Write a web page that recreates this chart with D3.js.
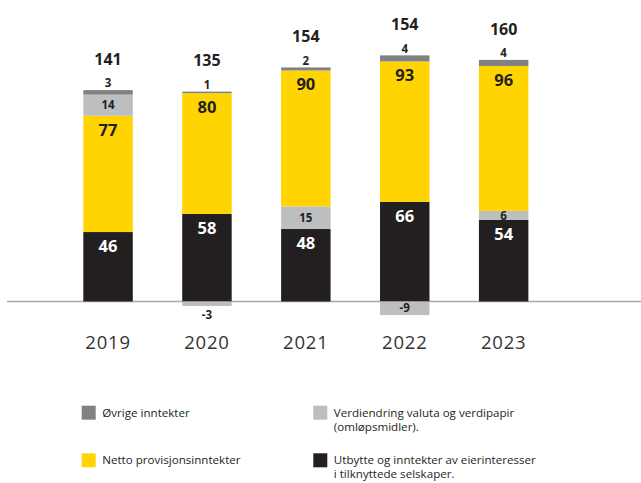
<!DOCTYPE html>
<html><head><meta charset="utf-8">
<script src="https://cdn.jsdelivr.net/npm/d3@7"></script>
<style>body{margin:0;background:#fff}svg{display:block}text{font-family:"Open Sans","Noto Sans",sans-serif}</style>
</head><body>
<svg id="c" width="641" height="483"></svg>
<script>
const years = ["2019","2020","2021","2022","2023"];
const utbytte = [46,58,48,66,54];
const verdiendring = [14,-3,15,-9,6];
const netto = [77,80,90,93,96];
const ovrige = [3,1,2,4,4];
const totals = [141,135,154,154,160];
// stacking order bottom-to-top per year (index into series list)
const stackOrder = [[0,2,1,3],[0,1,2,3],[0,1,2,3],[0,1,2,3],[0,1,2,3]];
const seriesNames = ["Utbytte og inntekter av eierinteresser\ni tilknyttede selskaper.","Verdiendring valuta og verdipapir\n(omløpsmidler).","Netto provisjonsinntekter","Øvrige inntekter"];
const colors = ["#231f20","#bcbec0","#ffd400","#808184"];

const svg = d3.select("#c");
const x = d3.scaleBand().domain(years).range([58.6,553.1]).paddingInner(0.5).paddingOuter(0.25);
const y = d3.scaleLinear().domain([0,160]).range([301.5,59.9]);
const dark = "#231f20";

const series = [utbytte, verdiendring, netto, ovrige];
const segs = [];
years.forEach((yr,i)=>{
  let pos=0, neg=0;
  stackOrder[i].forEach(k=>{
    const v=series[k][i];
    let y0,y1;
    if(v>=0){y0=pos;y1=pos+v;pos=y1;}else{y0=neg+v;y1=neg;neg=y0;}
    segs.push({yr,i,k,v,y0,y1});
  });
});

// axis line
svg.append("line").attr("x1",7).attr("x2",641).attr("y1",y(0)).attr("y2",y(0))
  .attr("stroke","#a7a9ac").attr("stroke-width",1.5);

svg.selectAll("rect.seg").data(segs).join("rect")
  .attr("x",d=>x(d.yr)).attr("width",x.bandwidth())
  .attr("y",d=>y(d.y1)).attr("height",d=>y(d.y0)-y(d.y1))
  .attr("fill",d=>colors[d.k]);

// labels
segs.forEach(d=>{
  const cx = x(d.yr)+x.bandwidth()/2;
  let ty, size, fill=dark;
  if(d.k===0||d.k===2){ty=y(d.y1)+14;size=16.5;fill=d.k===0?"#fff":dark;}
  else if(d.k===1){
    if(d.v<0 && (y(d.y0)-y(d.y1))<10){ty=y(d.y0)+9;}
    else ty=(y(d.y0)+y(d.y1))/2;
    size=11.5;
  } else {ty=y(d.y1)-7;size=11.5;}
  svg.append("text").attr("x",cx).attr("y",ty).attr("dy","0.36em")
    .attr("text-anchor","middle").attr("font-weight",700).attr("font-size",size)
    .attr("fill",fill).text(d.v);
});

// totals
years.forEach((yr,i)=>{
  const top = d3.sum(series,s=>Math.max(0,s[i]));
  svg.append("text").attr("x",x(yr)+x.bandwidth()/2).attr("y",y(top)-31).attr("dy","0.36em")
    .attr("text-anchor","middle").attr("font-weight",700).attr("font-size",16)
    .attr("fill",dark).text(totals[i]);
});

// year axis labels
const xa = svg.append("g").attr("transform",`translate(0,${y(0)})`)
  .call(d3.axisBottom(x).tickSize(0).tickPadding(34));
xa.select(".domain").remove();
xa.selectAll("text").attr("font-size",18.5).attr("fill","#333").attr("letter-spacing","0.8px")
  .attr("font-family","'Open Sans','Noto Sans',sans-serif");

// legend
const leg = [
  {k:3,x:81.7,y:405.7},{k:1,x:313.3,y:405.7},
  {k:2,x:81.7,y:453.3},{k:0,x:313.3,y:453.3}
];
leg.forEach(l=>{
  svg.append("rect").attr("x",l.x).attr("y",l.y).attr("width",14).attr("height",14).attr("fill",colors[l.k]);
  seriesNames[l.k].split("\n").forEach((line,j)=>{
    svg.append("text").attr("x",l.x+20.5).attr("y",l.y+11+j*13.8)
      .attr("font-size",11.6).attr("fill","#231f20").text(line);
  });
});
</script>
</body></html>
